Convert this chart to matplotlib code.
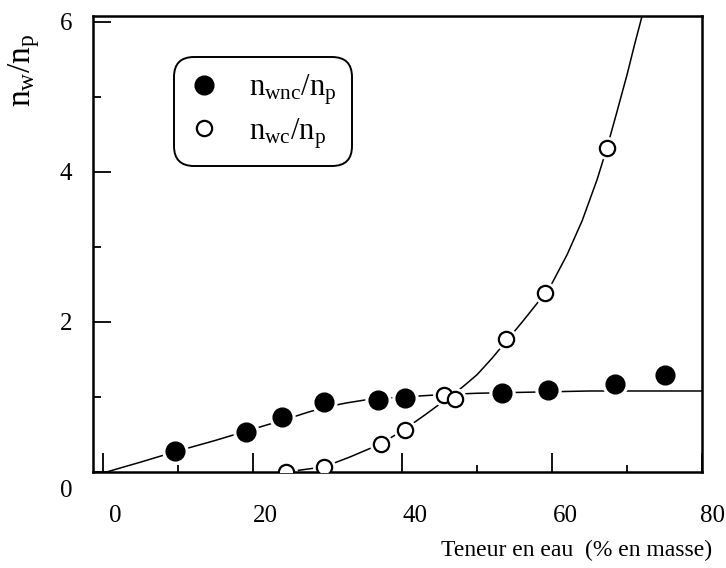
import matplotlib
matplotlib.use('Agg')
import matplotlib.pyplot as plt
import matplotlib.transforms as mtransforms

# measured points
x_nwnc = [9.7, 19.1, 24.0, 29.5, 36.7, 40.4, 53.3, 59.5, 68.4, 75.1]
y_nwnc = [0.28, 0.53, 0.73, 0.93, 0.96, 0.99, 1.05, 1.09, 1.17, 1.29]

x_nwc = [24.5, 29.6, 37.1, 40.3, 45.5, 47.0, 53.9, 59.1, 67.3]
y_nwc = [0.0, 0.07, 0.37, 0.56, 1.02, 0.97, 1.77, 2.39, 4.32]

# hand-drawn trend curves
curve_nwnc_x = [0.5, 5, 10, 15, 20, 25, 27.5, 30, 32.5, 35, 37.5, 40, 45, 50,
                55, 60, 65, 70, 75, 80]
curve_nwnc_y = [0.0, 0.13, 0.28, 0.42, 0.57, 0.72, 0.80, 0.87, 0.92, 0.96,
                0.98, 1.00, 1.03, 1.05, 1.06, 1.07, 1.08, 1.08, 1.08, 1.08]

curve_nwc_x = [24.5, 29.6, 33, 37, 40, 43, 46, 48, 50, 52, 54, 56, 58, 60, 62,
               64, 66, 67.3, 68.5, 70, 71, 72]
curve_nwc_y = [0.0, 0.07, 0.2, 0.37, 0.55, 0.76, 0.98, 1.13, 1.3, 1.52, 1.76,
               2.0, 2.25, 2.52, 2.9, 3.35, 3.9, 4.32, 4.75, 5.3, 5.7, 6.08]

x_major = [0, 20, 40, 60, 80]
x_minor = [10, 30, 50, 70]
y_major = [0, 2, 4, 6]
y_minor = [1, 3, 5]


def main():
    plt.rcParams['font.family'] = ['Liberation Serif', 'DejaVu Serif']
    plt.rcParams['mathtext.fontset'] = 'custom'
    plt.rcParams['mathtext.rm'] = 'Liberation Serif'

    fig = plt.figure(figsize=(7.26, 5.68), dpi=100)
    ax = fig.add_axes([0.128, 0.169, 0.839, 0.803])

    ax.plot(curve_nwnc_x, curve_nwnc_y, color='black', lw=1.1, zorder=1)
    ax.plot(curve_nwc_x, curve_nwc_y, color='black', lw=1.1, zorder=1)

    # white halo so the curves stop short of the markers
    ax.plot(x_nwnc, y_nwnc, 'o', ms=18, color='white', zorder=2)
    ax.plot(x_nwc, y_nwc, 'o', ms=15.5, color='white', zorder=2)
    ax.plot(x_nwnc, y_nwnc, 'o', ms=13.5, color='black', zorder=3,
            label=r'$\mathrm{n_{wnc}/n_p}\hspace{0.7}$')
    ax.plot(x_nwc, y_nwc, 'o', ms=11, mfc='white', mec='black', mew=1.6,
            zorder=4, label=r'$\mathrm{n_{wc}/n_p}$')

    ax.set_xlim(-1.3, 80)
    ax.set_ylim(0, 6.08)
    ax.set_xticks(x_major)
    ax.set_xticks(x_minor, minor=True)
    ax.set_yticks(y_major)
    ax.set_yticks(y_minor, minor=True)
    ax.tick_params(which='both', direction='in', top=False, right=False,
                   width=1.3, labelsize=18)
    ax.tick_params(axis='x', which='major', length=14, pad=24)
    ax.tick_params(axis='x', which='minor', length=5)
    ax.tick_params(axis='y', which='major', length=13, pad=15)
    ax.tick_params(axis='y', which='minor', length=6)
    for s in ax.spines.values():
        s.set_linewidth(1.8)

    shift = mtransforms.ScaledTranslation(0.13, 0, fig.dpi_scale_trans)
    for lab in ax.get_xticklabels()[:-1]:
        lab.set_transform(lab.get_transform() + shift)
    shift80 = mtransforms.ScaledTranslation(0.10, 0, fig.dpi_scale_trans)
    lab80 = ax.get_xticklabels()[-1]
    lab80.set_transform(lab80.get_transform() + shift80)
    down = mtransforms.ScaledTranslation(0, -0.16, fig.dpi_scale_trans)
    ylab0 = ax.get_yticklabels()[0]
    ylab0.set_transform(ylab0.get_transform() + down)

    ax.set_xlabel('Teneur en eau  (% en masse)', fontsize=17, loc='right')
    ax.xaxis.set_label_coords(1.016, -0.148)
    ax.set_ylabel(r'$\mathrm{n_w/n_p}$', fontsize=24, loc='top')
    ax.yaxis.set_label_coords(-0.083, 0.962)

    leg = ax.legend(loc='upper left', bbox_to_anchor=(0.133, 0.91),
                    borderaxespad=0, fontsize=22, handlelength=1.0,
                    handletextpad=0.95, borderpad=0.5, labelspacing=0.3,
                    frameon=True, fancybox=True, framealpha=1)
    frame = leg.get_frame()
    frame.set_edgecolor('black')
    frame.set_linewidth(1.4)
    frame.set_boxstyle('round', pad=0, rounding_size=0.65)

    fig.savefig('out.png', dpi=100)


if __name__ == "__main__":
    main()
